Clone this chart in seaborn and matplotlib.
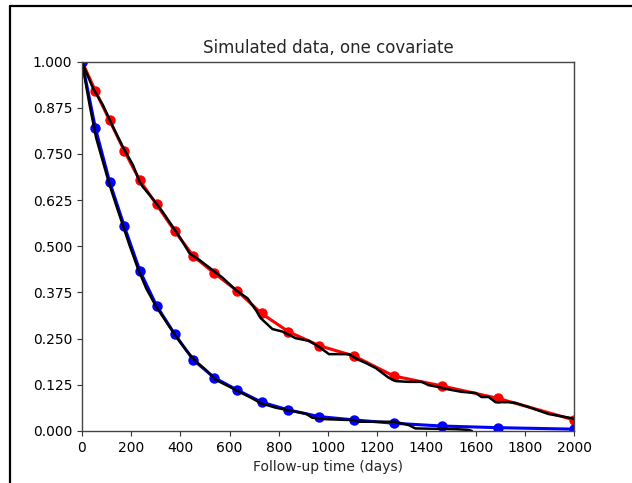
import matplotlib
matplotlib.use("Agg")
import matplotlib.pyplot as plt
from matplotlib.lines import Line2D
import seaborn as sns
import numpy as np

# Model curves evaluated at marker times
marker_t = [0, 54, 112, 172, 235, 303, 377, 453, 538, 631, 730, 839, 964, 1106, 1267, 1463, 1693, 2000]
red_S = [1.0, 0.921, 0.841, 0.758, 0.678, 0.613, 0.541, 0.473, 0.427, 0.379, 0.318, 0.269, 0.231,
         0.203, 0.149, 0.122, 0.088, 0.030]
blue_S = [1.0, 0.821, 0.675, 0.554, 0.434, 0.339, 0.262, 0.192, 0.144, 0.111, 0.078, 0.057, 0.039,
          0.030, 0.021, 0.0135, 0.009, 0.005]

# Kaplan-Meier style estimates (black curves)
km_red_t = [0, 2, 45, 85, 126, 166, 207, 234, 247, 281, 328, 396, 437, 477, 571, 626, 673, 707, 727,
            774, 815, 869, 923, 963, 1004, 1085, 1126, 1154, 1195, 1247, 1276, 1328, 1381, 1409, 1450,
            1478, 1543, 1600, 1624, 1653, 1681, 1733, 1762, 1815, 1896, 1989, 2000]
km_red_S = [1.0, 0.995, 0.927, 0.882, 0.823, 0.769, 0.720, 0.675, 0.661, 0.634, 0.593, 0.526, 0.481,
            0.463, 0.415, 0.381, 0.359, 0.327, 0.305, 0.276, 0.269, 0.251, 0.244, 0.228, 0.208, 0.208,
            0.192, 0.184, 0.170, 0.144, 0.135, 0.133, 0.133, 0.124, 0.119, 0.114, 0.106, 0.103, 0.092,
            0.092, 0.078, 0.078, 0.076, 0.065, 0.046, 0.035, 0.032]

km_blue_t = [0, 2, 31, 58, 85, 112, 139, 166, 193, 227, 261, 302, 342, 383, 423, 457, 504, 545, 599,
             639, 693, 727, 788, 855, 910, 936, 991, 1072, 1105, 1126, 1274, 1328, 1355, 1518, 1571, 1585]
km_blue_S = [1.0, 0.99, 0.882, 0.792, 0.729, 0.666, 0.611, 0.557, 0.503, 0.440, 0.386, 0.336, 0.296,
             0.255, 0.219, 0.192, 0.165, 0.138, 0.120, 0.106, 0.088, 0.075, 0.063, 0.054, 0.047, 0.036,
             0.032, 0.030, 0.030, 0.025, 0.025, 0.016, 0.007, 0.005, 0.003, 0.0]

x_ticks = [0, 200, 400, 600, 800, 1000, 1200, 1400, 1600, 1800, 2000]
y_ticks = [0.0, 0.125, 0.25, 0.375, 0.5, 0.625, 0.75, 0.875, 1.0]

sns.set_style("ticks")
plt.rcParams['font.family'] = ['DejaVu Sans']

fig = plt.figure(figsize=(6.32, 4.83), dpi=100)
ax = fig.add_axes([82 / 632, 1 - 431 / 483, 492 / 632, 369.5 / 483])

for S, col in [(red_S, "#ff0000"), (blue_S, "#0000ff")]:
    sns.lineplot(x=marker_t, y=S, ax=ax, color=col, lw=2.2, sort=False, estimator=None,
                 marker="o", markersize=7.5, markeredgewidth=0, markeredgecolor=col)

sns.lineplot(x=km_red_t, y=km_red_S, ax=ax, color="black", lw=1.8, sort=False, estimator=None)
sns.lineplot(x=km_blue_t, y=km_blue_S, ax=ax, color="black", lw=1.8, sort=False, estimator=None)

ax.set_xlim(0, 2000)
ax.set_ylim(0, 1)
ax.set_xticks(x_ticks)
ax.set_yticks(y_ticks)
ax.set_yticklabels([f"{v:.3f}" for v in y_ticks])
ax.tick_params(labelsize=10, length=3.5, width=0.8, color="#333333", labelcolor="black")
for sp in ax.spines.values():
    sp.set_visible(True)
    sp.set_color("#444444")
    sp.set_linewidth(1.0)
ax.set_xlabel("Follow-up time (days)", fontsize=10)
ax.set_ylabel("")
ax.set_title("Simulated data, one covariate", fontsize=12, pad=6)

# outer frame lines (left and top)
fig.add_artist(Line2D([10.5 / 632, 10.5 / 632], [0, 1 - 6 / 483], transform=fig.transFigure,
                      color="black", lw=1.6))
fig.add_artist(Line2D([10.5 / 632, 1], [1 - 6 / 483, 1 - 6 / 483], transform=fig.transFigure,
                      color="black", lw=1.6))

fig.savefig("out.png", dpi=100)
